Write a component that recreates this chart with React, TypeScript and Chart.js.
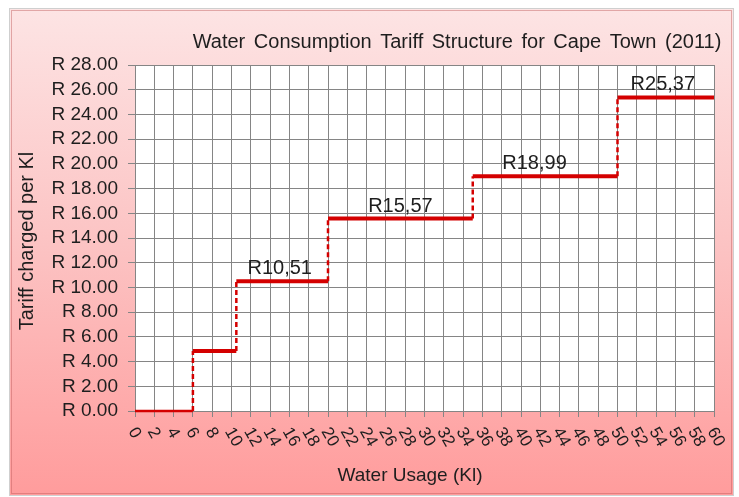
import React, { useEffect, useRef } from "react";
import { Chart, registerables } from "chart.js";

Chart.register(...registerables);

const chartTitle = "Water Consumption Tariff Structure for Cape Town (2011)";
const xAxisTitle = "Water Usage (Kl)";
const yAxisTitle = "Tariff charged per Kl";

// tier boundaries (Kl) and tariff for each tier (R per Kl)
const breakpoints = [0, 6, 10.5, 20, 35, 50, 60];
const tariffs = [0, 4.86, 10.51, 15.57, 18.99, 25.37];

// value annotations
const valueLabels = ["R10,51", "R15,57", "R18,99", "R25,37"];
const valueLabelTier = [2, 3, 4, 5];
const valueLabelX = [15, 27.5, 41.4, 54.7];

const xMin = 0;
const xMax = 60;
const xStep = 2;
const yMin = 0;
const yMax = 28;
const yStep = 2;

const FONT = "'Liberation Sans', Arial, sans-serif";
const RED = "#d40000";
const GRID = "#858585";
const TEXT = "#1e1e1e";

const decorPlugin = {
  id: "decor",
  beforeDraw(chart: any) {
    const ctx = chart.ctx;
    ctx.save();
    const g = ctx.createLinearGradient(0, 9, 0, 495);
    g.addColorStop(0, "#fde4e4");
    g.addColorStop(0.5, "#fcc2c2");
    g.addColorStop(1, "#ff9c9c");
    ctx.fillStyle = g;
    ctx.fillRect(10, 9, 723, 486);
    ctx.strokeStyle = "#cfcfcf";
    ctx.lineWidth = 1;
    ctx.strokeRect(9.5, 8.5, 724, 487);
    ctx.strokeStyle = "rgba(190,90,90,0.45)";
    ctx.strokeRect(11.5, 10.5, 720, 483);
    const a = chart.chartArea;
    ctx.fillStyle = "#ffffff";
    ctx.fillRect(a.left, a.top, a.right - a.left, a.bottom - a.top);
    ctx.restore();
  },
  afterDraw(chart: any) {
    const ctx = chart.ctx;
    const xs = chart.scales.x;
    const ys = chart.scales.y;
    const a = chart.chartArea;
    ctx.save();
    ctx.fillStyle = TEXT;

    // chart title
    ctx.font = `20px ${FONT}`;
    ctx.textAlign = "center";
    ctx.textBaseline = "middle";
    (ctx as any).wordSpacing = "3px";
    ctx.fillText(chartTitle, 457, 42);
    (ctx as any).wordSpacing = "0px";

    // axis titles
    ctx.font = `19px ${FONT}`;
    ctx.fillText(xAxisTitle, 410, 476);
    ctx.save();
    ctx.translate(27, 241);
    ctx.rotate(-Math.PI / 2);
    ctx.font = `20px ${FONT}`;
    ctx.fillText(yAxisTitle, 0, 0);
    ctx.restore();

    // x tick labels, rotated clockwise
    ctx.font = `17px ${FONT}`;
    ctx.textAlign = "left";
    ctx.textBaseline = "middle";
    xs.ticks.forEach((t: any) => {
      const px = xs.getPixelForValue(t.value);
      ctx.save();
      ctx.translate(px - 3, a.bottom + 18);
      ctx.rotate((60 * Math.PI) / 180);
      ctx.fillText(String(t.value), 0, 0);
      ctx.restore();
    });

    // value labels
    ctx.font = `20px ${FONT}`;
    ctx.textAlign = "center";
    ctx.textBaseline = "alphabetic";
    valueLabels.forEach((lbl, i) => {
      const px = xs.getPixelForValue(valueLabelX[i]);
      const py = ys.getPixelForValue(tariffs[valueLabelTier[i]]);
      ctx.fillText(lbl, px, py - 7);
    });
    ctx.restore();
  },
};

export default function App() {
  const ref = useRef<HTMLCanvasElement | null>(null);

  useEffect(() => {
    if (!ref.current) return;
    const datasets: any[] = [];
    for (let i = 0; i < tariffs.length; i++) {
      datasets.push({
        data: [
          { x: breakpoints[i], y: tariffs[i] },
          { x: breakpoints[i + 1], y: tariffs[i] },
        ],
        borderColor: RED,
        borderWidth: i === 0 ? 2.5 : 4,
        pointRadius: 0,
        fill: false,
        clip: false,
      });
    }
    for (let i = 1; i < tariffs.length; i++) {
      datasets.push({
        data: [
          { x: breakpoints[i], y: tariffs[i - 1] },
          { x: breakpoints[i], y: tariffs[i] },
        ],
        borderColor: RED,
        borderWidth: 2.5,
        borderDash: [5, 3],
        pointRadius: 0,
        fill: false,
        clip: false,
      });
    }

    const chart = new Chart(ref.current, {
      type: "line",
      data: { datasets },
      options: {
        animation: false,
        responsive: false,
        devicePixelRatio: 1,
        layout: { padding: { top: 65, right: 25, left: 0, bottom: 0 } },
        plugins: {
          legend: { display: false },
          tooltip: { enabled: false },
          title: { display: false },
        },
        scales: {
          x: {
            type: "linear",
            min: xMin,
            max: xMax,
            ticks: { stepSize: xStep, display: false, autoSkip: false },
            grid: { color: GRID, lineWidth: 1, tickLength: 6, drawTicks: true },
            border: { display: true, color: GRID },
            afterFit: (s: any) => {
              s.height = 86;
            },
          },
          y: {
            type: "linear",
            min: yMin,
            max: yMax,
            ticks: {
              stepSize: yStep,
              autoSkip: false,
              color: TEXT,
              padding: 10,
              font: { family: FONT, size: 19 },
              callback: (v: any) => `R ${Number(v).toFixed(2)}`,
            },
            grid: { color: GRID, lineWidth: 1, tickLength: 7 },
            border: { display: true, color: GRID },
            afterFit: (s: any) => {
              s.width = 135;
            },
          },
        },
      },
      plugins: [decorPlugin],
    } as any);
    return () => chart.destroy();
  }, []);

  return (
    <div style={{ position: "fixed", left: 0, top: 0, width: 739, height: 497 }}>
      <canvas ref={ref} width={739} height={497} style={{ display: "block" }} />
    </div>
  );
}
